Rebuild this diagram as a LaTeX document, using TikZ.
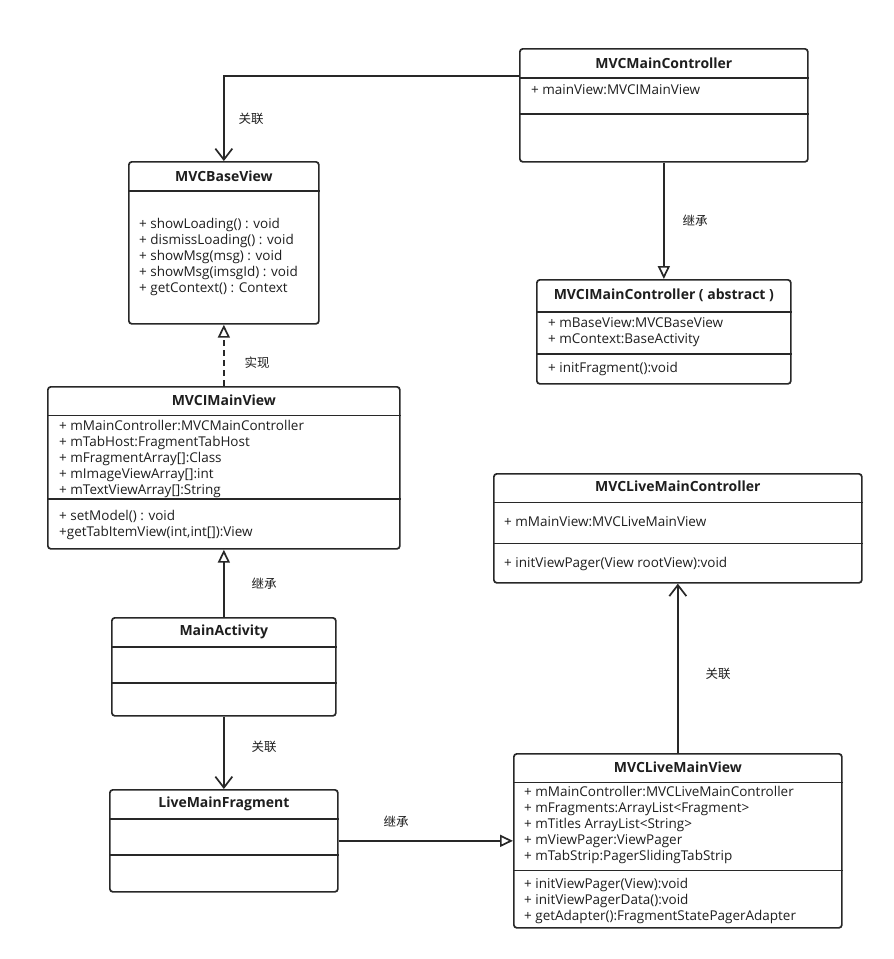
\documentclass[tikz,border=0pt]{standalone}
\usepackage{fontspec}
\setmainfont{Open Sans}
\newfontfamily\cjk{Noto Sans CJK SC}
\usetikzlibrary{arrows.meta,positioning,calc}
\definecolor{umlline}{RGB}{40,40,40}
\definecolor{umltext}{RGB}{30,30,30}
\tikzset{
  cls/.style     = {rectangle, rounded corners=3pt, draw=umlline, line width=1.7pt,
                    anchor=north west, inner sep=0pt},
  clsname/.style = {font=\fontsize{14}{16}\selectfont\bfseries, text=umltext, inner sep=0pt},
  members/.style = {font=\fontsize{13.5}{16}\selectfont, text=umltext, align=left,
                    anchor=west, inner sep=0pt, yshift=-1.5pt},
  sep/.style     = {draw=umlline, line width=1.7pt},
  lbl/.style     = {font=\cjk\fontsize{12.5}{14}\selectfont, text=umltext, inner sep=0pt},
  assoc/.style   = {-{Straight Barb[length=11pt, width=17pt]}, draw=umlline, line width=1.7pt},
  inherit/.style = {-{Triangle[open, length=13pt, width=12pt, fill=white]}, draw=umlline,
                    line width=1.7pt},
  realize/.style = {inherit, dash pattern=on 6pt off 4pt},
}

\begin{document}
\begin{tikzpicture}[x=1pt, y=-1pt]

\fill[white] (0,0) rectangle (894,959);

% MVCMainController
\node[cls, minimum width=288pt, minimum height=113pt] (mmc) at (519,48) {};
\draw[sep] (mmc.west |- 0,77.7) -- (mmc.east |- 0,77.7);
\draw[sep] (mmc.west |- 0,114) -- (mmc.east |- 0,114);
\node[clsname] (mmc-name) at (mmc.north |- 0,63) {MVCMainController};
\node[members] (mmc-attr) at (531,88.5) {+ mainView:MVCIMainView};

% MVCBaseView
\node[cls, minimum width=190pt, minimum height=162pt] (mbv) at (128,161) {};
\draw[sep] (mbv.west |- 0,191) -- (mbv.east |- 0,191);
\node[clsname] (mbv-name) at (mbv.north |- 0,176.5) {MVCBaseView};
\node[members] (mbv-ops) at (139,255) {+ showLoading() : void\\
  + dismissLoading() : void\\
  + showMsg(msg) : void\\
  + showMsg(imsgId) : void\\
  + getContext() : Context};

% MVCIMainController (abstract)
\node[cls, minimum width=254pt, minimum height=104pt] (mic) at (536,279) {};
\draw[sep] (mic.west |- 0,312) -- (mic.east |- 0,312);
\draw[sep] (mic.west |- 0,354) -- (mic.east |- 0,354);
\node[clsname] (mic-name) at (mic.north |- 0,295.5) {MVCIMainController ( abstract )};
\node[members] (mic-attr) at (548,330.7) {+ mBaseView:MVCBaseView\\
  + mContext:BaseActivity};
\node[members] (mic-ops) at (548,367.7) {+ initFragment():void};

% MVCIMainView
\node[cls, minimum width=352pt, minimum height=162pt] (miv) at (47,386) {};
\draw[sep] (miv.west |- 0,415.5) -- (miv.east |- 0,415.5);
\draw[sep] (miv.west |- 0,499) -- (miv.east |- 0,499);
\node[clsname] (miv-name) at (miv.north |- 0,400.7) {MVCIMainView};
\node[members] (miv-attr) at (59,457.2) {+ mMainController:MVCMainController\\
  + mTabHost:FragmentTabHost\\
  + mFragmentArray[]:Class\\
  + mImageViewArray[]:int\\
  + mTextViewArray[]:String};
\node[members] (miv-ops) at (59,523.3) {+ setModel() : void\\
  +getTabItemView(int,int[]):View};

% MainActivity
\node[cls, minimum width=224pt, minimum height=98pt] (ma) at (111,617) {};
\draw[sep] (ma.west |- 0,647) -- (ma.east |- 0,647);
\draw[sep] (ma.west |- 0,683) -- (ma.east |- 0,683);
\node[clsname] (ma-name) at (ma.north |- 0,632) {MainActivity};

% LiveMainFragment
\node[cls, minimum width=228pt, minimum height=102pt] (lmf) at (109,789) {};
\draw[sep] (lmf.west |- 0,819) -- (lmf.east |- 0,819);
\draw[sep] (lmf.west |- 0,855) -- (lmf.east |- 0,855);
\node[clsname] (lmf-name) at (lmf.north |- 0,804) {LiveMainFragment};

% MVCLiveMainController
\node[cls, minimum width=368pt, minimum height=109pt] (lmc) at (493,473) {};
\draw[sep] (lmc.west |- 0,502.5) -- (lmc.east |- 0,502.5);
\draw[sep] (lmc.west |- 0,543.5) -- (lmc.east |- 0,543.5);
\node[clsname] (lmc-name) at (lmc.north |- 0,486.7) {MVCLiveMainController};
\node[members] (lmc-attr) at (504,520) {+ mMainView:MVCLiveMainView};
\node[members] (lmc-ops) at (504,562.3) {+ initViewPager(View rootView):void};

% MVCLiveMainView
\node[cls, minimum width=328pt, minimum height=174pt] (lmv) at (513,753) {};
\draw[sep] (lmv.west |- 0,782.5) -- (lmv.east |- 0,782.5);
\draw[sep] (lmv.west |- 0,870.5) -- (lmv.east |- 0,870.5);
\node[clsname] (lmv-name) at (lmv.north |- 0,767.3) {MVCLiveMainView};
\node[members] (lmv-attr) at (524,823.7) {+ mMainController:MVCLiveMainController\\
  + mFragments:ArrayList<Fragment>\\
  + mTitles ArrayList<String>\\
  + mViewPager:ViewPager\\
  + mTabStrip:PagerSlidingTabStrip};
\node[members] (lmv-ops) at (524,899.2) {+ initViewPager(View):void\\
  + initViewPagerData():void\\
  + getAdapter():FragmentStatePagerAdapter};

% relations
\draw[assoc] ($(mmc.north west)+(0,28)$) -| (mbv.north)
  node[lbl, pos=0.75, right=14pt] {关联};
\draw[inherit] (mmc.south) -- (mmc.south |- mic.north)
  node[lbl, midway, right=18pt] {继承};
\draw[realize] (miv.north) -- (miv.north |- mbv.south)
  node[lbl, pos=0.38, right=20pt] {实现};
\draw[inherit] (ma.north) -- (ma.north |- miv.south)
  node[lbl, midway, right=27pt] {继承};
\draw[assoc] (ma.south) -- (ma.south |- lmf.north)
  node[lbl, pos=0.42, right=27pt] {关联};
\draw[inherit] (lmf.east) -- (lmf.east -| lmv.west)
  node[lbl, pos=0.33, above=13pt] {继承};
\draw[assoc] (lmv.north) -- (lmv.north |- lmc.south)
  node[lbl, pos=0.47, right=27pt] {关联};

\end{tikzpicture}
\end{document}
